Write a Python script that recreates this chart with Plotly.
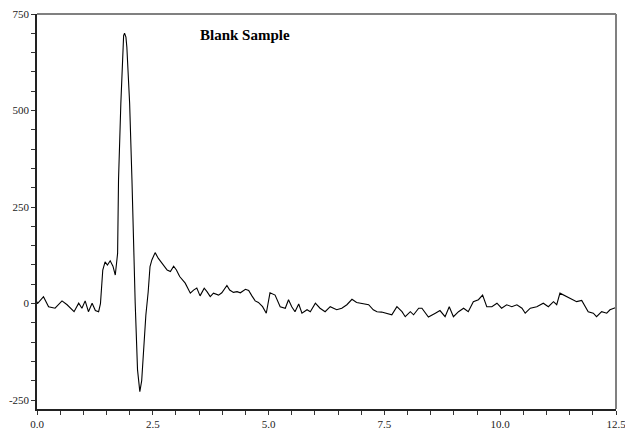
import plotly.graph_objects as go

# Retention time (x) and detector signal (y)
time_min = [
    0.00, 0.01, 0.14, 0.25, 0.39, 0.54, 0.65, 0.72, 0.80, 0.90, 0.97, 1.04, 1.11, 1.19, 1.26, 1.33,
    1.37, 1.42, 1.47, 1.52, 1.58, 1.64, 1.69, 1.74, 1.76, 1.81, 1.85, 1.87, 1.89, 1.92, 1.94,
    2.00, 2.05, 2.08, 2.12, 2.17, 2.22, 2.26, 2.30, 2.35, 2.40, 2.44, 2.48,
    2.55, 2.62, 2.70, 2.81, 2.88, 2.95, 3.01, 3.08, 3.20, 3.31, 3.38, 3.45, 3.52, 3.61, 3.67,
    3.74, 3.81, 3.92, 3.99, 4.10, 4.16, 4.24, 4.32, 4.39, 4.50, 4.57, 4.64, 4.71, 4.78, 4.87,
    4.95, 5.03, 5.14, 5.25, 5.36, 5.43, 5.50, 5.57, 5.65, 5.72, 5.83, 5.90, 6.01, 6.11, 6.22,
    6.33, 6.47, 6.58, 6.69, 6.80, 6.90, 7.05, 7.16, 7.26, 7.34, 7.44, 7.55, 7.66, 7.77, 7.88,
    7.95, 8.06, 8.13, 8.24, 8.31, 8.45, 8.60, 8.70, 8.81, 8.90, 8.99, 9.10, 9.21, 9.31, 9.42,
    9.53, 9.62, 9.71, 9.82, 9.93, 10.03, 10.14, 10.25, 10.36, 10.47, 10.54, 10.65, 10.79, 10.93,
    11.04, 11.15, 11.22, 11.29, 11.40, 11.51, 11.65, 11.76, 11.83, 11.90, 12.01, 12.08, 12.19,
    12.30, 12.37, 12.46, 12.50,
]
signal = [
    5, 0, 18, -8, -12, 7, -3, -11, -21, 1, -12, 7, -21, 1, -18, -21,
    0, 87, 108, 100, 111, 97, 74, 130, 320, 518, 647, 694, 700, 690, 664,
    518, 320, 173, 1, -171, -228, -200, -120, -30, 30, 96, 113,
    132, 117, 104, 87, 83, 97, 87, 70, 53, 27, 35, 40, 20, 40, 31,
    18, 27, 22, 28, 47, 35, 29, 31, 28, 37, 34, 20, 7, 3, -8,
    -25, 28, 22, -8, -12, 10, -8, -21, -1, -25, -16, -21, 1, -12, -21,
    -8, -16, -12, -3, 11, 3, -1, -3, -16, -21, -22, -25, -29, -8, -21,
    -34, -21, -29, -12, -12, -35, -25, -18, -34, -8, -34, -21, -12, -21, 5,
    10, 22, -8, -8, 1, -12, -3, -8, -3, -12, -25, -12, -8, 1,
    -8, 5, -3, 27, 20, 14, 5, 8, -8, -21, -25, -34, -21,
    -25, -16, -12, -10,
]

x_ticks = [i * 0.5 for i in range(26)]
x_labels = [f"{v:.1f}" if abs(v / 2.5 - round(v / 2.5)) < 1e-9 else "" for v in x_ticks]
y_ticks = list(range(-250, 751, 50))
y_labels = [str(v) if v % 250 == 0 else "" for v in y_ticks]

fig = go.Figure()
fig.add_trace(go.Scatter(x=time_min, y=signal, mode="lines",
                         line=dict(color="black", width=1.1), showlegend=False,
                         hoverinfo="skip"))

fig.update_layout(
    width=625, height=438,
    margin=dict(l=37, r=9, t=14, b=29, autoexpand=False),
    paper_bgcolor="white", plot_bgcolor="white",
    font=dict(family="Liberation Serif", size=11, color="#222"),
    xaxis=dict(range=[0, 12.5], tickvals=x_ticks, ticktext=x_labels, automargin=False,
               ticklabeloverflow="allow",
               ticks="outside", ticklen=4, tickcolor="#333", showgrid=False,
               zeroline=False, showline=True, linecolor="#222", linewidth=1.5),
    yaxis=dict(range=[-273, 750], tickvals=y_ticks, ticktext=y_labels, automargin=False,
               ticklabeloverflow="allow",
               ticks="outside", ticklen=4, tickcolor="#333", showgrid=False,
               zeroline=False, showline=True, linecolor="#222", linewidth=1.5),
    shapes=[
        dict(type="line", xref="paper", yref="paper", x0=0, x1=1, y0=1, y1=1,
             line=dict(color="#808080", width=2)),
        dict(type="line", xref="paper", yref="paper", x0=1, x1=1, y0=0, y1=1,
             line=dict(color="#808080", width=2)),
    ],
    annotations=[
        dict(text="<b>Blank Sample</b>", xref="paper", yref="paper",
             x=0.359, y=0.947, xanchor="center", yanchor="middle", showarrow=False,
             font=dict(family="Liberation Serif", size=15, color="black")),
    ],
)

fig.write_html("out.html", config={"displayModeBar": False},
               post_script="document.body.style.margin='0';document.body.style.overflow='hidden';")
